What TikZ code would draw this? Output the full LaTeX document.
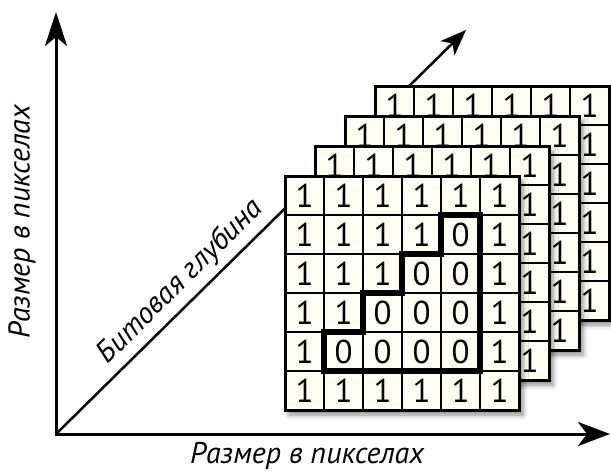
\documentclass[tikz,border=0pt]{standalone}
\usepackage{fontspec}
\setmainfont{PT Sans}
\usetikzlibrary{arrows.meta,shadows.blur}
\definecolor{cream}{RGB}{255,254,242}
\begin{document}
\begin{tikzpicture}[x=1pt,y=-1pt,
  axis/.style={line width=3pt, line join=miter},
  diag/.style={line width=2.5pt, -{Stealth[length=26pt,width=20pt,inset=7pt]}},
  layerbox/.style={minimum width=234pt, minimum height=234pt, fill=cream, inner sep=0pt, outer sep=0pt,
    blur shadow={shadow xshift=4pt, shadow yshift=-5pt, shadow opacity=45, shadow blur radius=5pt}},
  cell/.style={draw, line width=2.6pt, minimum size=39pt, inner sep=0pt, outer sep=0pt,
    font=\fontsize{33}{33}\selectfont},
  frame/.style={line width=3pt},
  stair/.style={line width=6pt, line join=miter},
  lbl/.style={font=\fontsize{30}{30}\selectfont\itshape, inner sep=0pt}]
\useasboundingbox (0,0) rectangle (611,472);
\coordinate (O) at (56,434);
\coordinate (Ytip) at (56,12);
\coordinate (Xtip) at (610,434);
\coordinate (Dtip) at (466,30);
\draw[axis, {Stealth[length=34pt,width=22pt,inset=9pt]}-{Stealth[length=32pt,width=24pt,inset=9pt]}] (Ytip) -- (O) -- (Xtip);
\draw[diag] (O) -- (Dtip);
\path (O) -- (Dtip) node[lbl, sloped, pos=0.34, above=7pt] (dlab) {Битовая глубина};
\node[lbl, rotate=90] (ylab) at (22,222) {Размер в пикселах};
\node[lbl, anchor=base] (xlab) at (307,463) {Размер в пикселах};
\foreach \k/\X/\Y in {4/375/86, 3/345/116, 2/315/146, 1/285/176} {
  \node[layerbox] (L\k) at (\X+117,\Y+117) {};
  \foreach \r in {0,...,5} {
    \foreach \c in {0,...,5} {
      \pgfmathtruncatemacro\d{(\k==1 && \r>=1 && \r<=4 && \c>=5-\r && \c<=4) ? 0 : 1}
      \pgfmathtruncatemacro\vis{(\k==1 || \r==0 || \c==5) ? 1 : 0}
      \ifnum\vis=1
        \node[cell] (L\k-\r-\c) at ({\X+19.5+39*\c},{\Y+19.5+39*\r}) {\d};
      \else
        \node[cell] (L\k-\r-\c) at ({\X+19.5+39*\c},{\Y+19.5+39*\r}) {};
      \fi
    }
  }
  \draw[frame] (L\k.north west) rectangle (L\k.south east);
}
\draw[stair] (L1-1-4.north west) -- (L1-1-5.north west) -- (L1-5-5.north west) -- (L1-5-1.north west)
  -- (L1-4-1.north west) -- (L1-4-2.north west) -- (L1-3-2.north west) -- (L1-3-3.north west)
  -- (L1-2-3.north west) -- (L1-2-4.north west) -- cycle;
\end{tikzpicture}
\end{document}
